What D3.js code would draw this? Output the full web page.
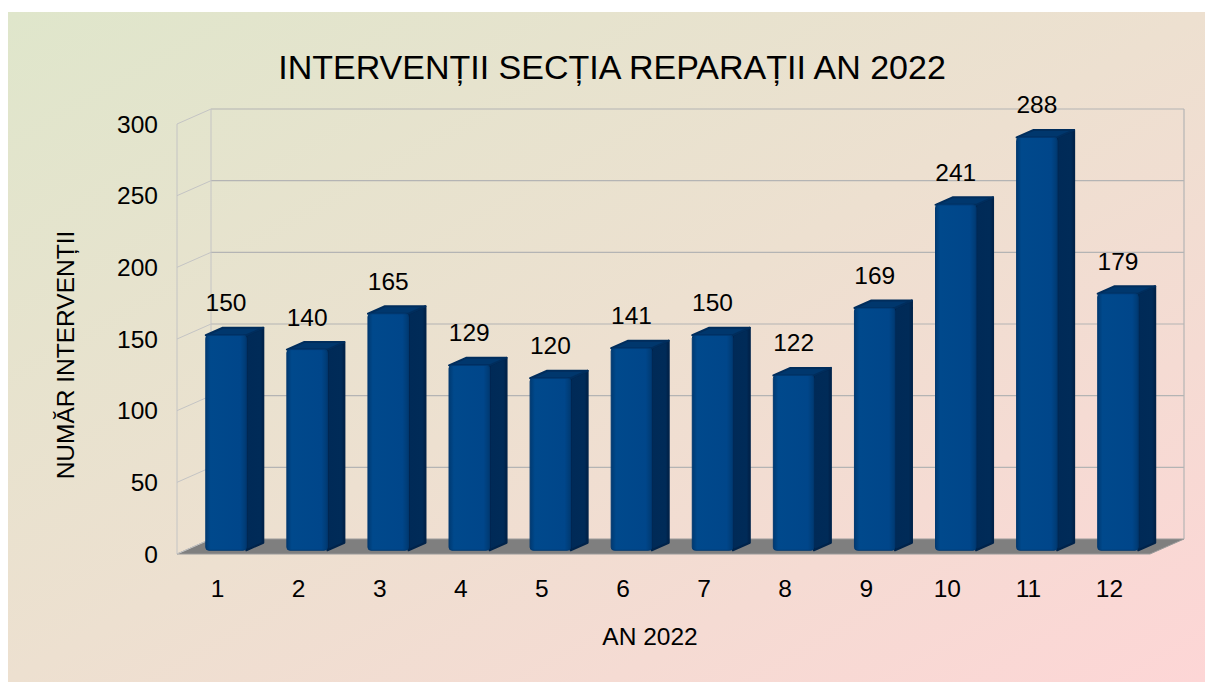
<!DOCTYPE html>
<html>
<head>
<meta charset="utf-8">
<script src="https://cdn.jsdelivr.net/npm/d3@7/dist/d3.min.js"></script>
<style>
  html, body { margin: 0; padding: 0; background: #ffffff; }
  svg { display: block; }
  text { font-family: "Liberation Sans", Arial, sans-serif; fill: #000; }
</style>
</head>
<body>
<svg id="chart" width="1205" height="682"></svg>
<script>
// ---- data ----
const categories = ["1","2","3","4","5","6","7","8","9","10","11","12"];
const values = [150, 140, 165, 129, 120, 141, 150, 122, 169, 241, 288, 179];
const yTicks = [0, 50, 100, 150, 200, 250, 300];
const title = "INTERVENȚII SECȚIA REPARAȚII AN 2022";
const xTitle = "AN 2022";
const yTitle = "NUMĂR INTERVENȚII";

// ---- layout ----
const W = 1205, H = 682;
const front = { left: 177, right: 1150, top: 124, bottom: 554 };
const DX = 34, DY = -15;       // depth offset of back wall
const barD0 = 0.25, barD1 = 0.75; // bar depth span (fraction)
const fs = 24.5;

const svg = d3.select("#chart");
const defs = svg.append("defs");

const bg = defs.append("linearGradient").attr("id","bg")
  .attr("x1","0").attr("y1","0").attr("x2","1").attr("y2","1");
bg.append("stop").attr("offset","0").attr("stop-color","#dfe6cb");
bg.append("stop").attr("offset","0.5").attr("stop-color","#ede0d0");
bg.append("stop").attr("offset","1").attr("stop-color","#fdd6d6");

const fg = defs.append("linearGradient").attr("id","barFront")
  .attr("x1","0").attr("y1","0").attr("x2","1").attr("y2","0");
fg.append("stop").attr("offset","0").attr("stop-color","#003a72");
fg.append("stop").attr("offset","0.12").attr("stop-color","#00498c");
fg.append("stop").attr("offset","0.85").attr("stop-color","#00468a");
fg.append("stop").attr("offset","1").attr("stop-color","#003a72");

const sg = defs.append("linearGradient").attr("id","barSide")
  .attr("x1","0").attr("y1","0").attr("x2","1").attr("y2","0");
sg.append("stop").attr("offset","0").attr("stop-color","#002a57");
sg.append("stop").attr("offset","0.8").attr("stop-color","#002b58");
sg.append("stop").attr("offset","1").attr("stop-color","#00234a");

svg.append("rect").attr("x", 8).attr("y", 12).attr("width", W - 8).attr("height", H - 12)
  .attr("fill", "url(#bg)");

const x = d3.scaleBand().domain(categories).range([front.left, front.right]).paddingInner(0).paddingOuter(0);
const y = d3.scaleLinear().domain([0, 300]).range([front.bottom, front.top]);

const gridColor = "#b4b4b4";
const walls = svg.append("g");

// floor
const fl = front.left, fr = front.right, fb = front.bottom;
walls.append("path")
  .attr("d", `M${fl},${fb} L${fr},${fb} L${fr+DX},${fb+DY} L${fl+DX},${fb+DY} Z`)
  .attr("fill", "#7f7f7f").attr("stroke", "#9a9a9a").attr("stroke-width", 1);

// side wall & back wall gridlines
yTicks.forEach(t => {
  const yy = y(t);
  walls.append("line").attr("x1", fl).attr("y1", yy).attr("x2", fl + DX).attr("y2", yy + DY)
    .attr("stroke", "#c4c4c4").attr("stroke-width", 1);
  if (t > 0) {
    walls.append("line").attr("x1", fl + DX).attr("y1", yy + DY).attr("x2", fr + DX).attr("y2", yy + DY)
      .attr("stroke", gridColor).attr("stroke-width", 1.2);
  }
});
// vertical wall edges
walls.append("line").attr("x1", fl).attr("y1", y(300)).attr("x2", fl).attr("y2", y(0))
  .attr("stroke", "#c4c4c4").attr("stroke-width", 1);
walls.append("line").attr("x1", fl + DX).attr("y1", y(300) + DY).attr("x2", fl + DX).attr("y2", y(0) + DY)
  .attr("stroke", "#c4c4c4").attr("stroke-width", 1);
walls.append("line").attr("x1", fr + DX).attr("y1", y(300) + DY).attr("x2", fr + DX).attr("y2", y(0) + DY)
  .attr("stroke", gridColor).attr("stroke-width", 1.2);

// bars
const bw = x.bandwidth() * 0.5;
const bars = svg.append("g");
categories.forEach((c, i) => {
  const v = values[i];
  const x0 = x(c) + (x.bandwidth() - bw) / 2 + DX * barD0;
  const yb = y(0) + DY * barD0;
  const yt = y(v) + DY * barD0;
  const ddx = DX * (barD1 - barD0), ddy = DY * (barD1 - barD0);
  const g = bars.append("g");
  // side face
  g.append("path")
    .attr("d", `M${x0+bw},${yt} L${x0+bw+ddx},${yt+ddy} L${x0+bw+ddx},${yb+ddy} L${x0+bw},${yb} Z`)
    .attr("fill", "url(#barSide)").attr("stroke", "#00234a").attr("stroke-width", 2).attr("stroke-linejoin", "round");
  // top face
  g.append("path")
    .attr("d", `M${x0},${yt} L${x0+ddx},${yt+ddy} L${x0+bw+ddx},${yt+ddy} L${x0+bw},${yt} Z`)
    .attr("fill", "#00376d").attr("stroke", "#002d5c").attr("stroke-width", 2).attr("stroke-linejoin", "round");
  // front face
  g.append("rect").attr("x", x0).attr("y", yt).attr("width", bw).attr("height", yb - yt)
    .attr("rx", 3).attr("fill", "url(#barFront)").attr("stroke", "#003870").attr("stroke-width", 1);
  // value label
  svg.append("text").attr("x", x0 + bw / 2).attr("y", yt - 24)
    .attr("text-anchor", "middle").attr("font-size", fs).text(v);
});

// y tick labels (front plane)
svg.append("g").selectAll("text").data(yTicks).join("text")
  .attr("x", 158).attr("y", d => y(d)).attr("dy", "0.36em")
  .attr("text-anchor", "end").attr("font-size", fs).text(d => d);

// x tick labels
svg.append("g").selectAll("text").data(categories).join("text")
  .attr("x", d => x(d) + x.bandwidth() / 2).attr("y", 597)
  .attr("text-anchor", "middle").attr("font-size", fs).text(d => d);

// titles
svg.append("text").attr("x", 612).attr("y", 79).attr("text-anchor", "middle")
  .attr("font-size", 34).text(title);
svg.append("text").attr("x", 650).attr("y", 645).attr("text-anchor", "middle")
  .attr("font-size", fs).text(xTitle);
svg.append("text").attr("transform", "translate(65,355) rotate(-90)").attr("text-anchor", "middle")
  .attr("dy", "0.36em").attr("font-size", fs).text(yTitle);
</script>
</body>
</html>
